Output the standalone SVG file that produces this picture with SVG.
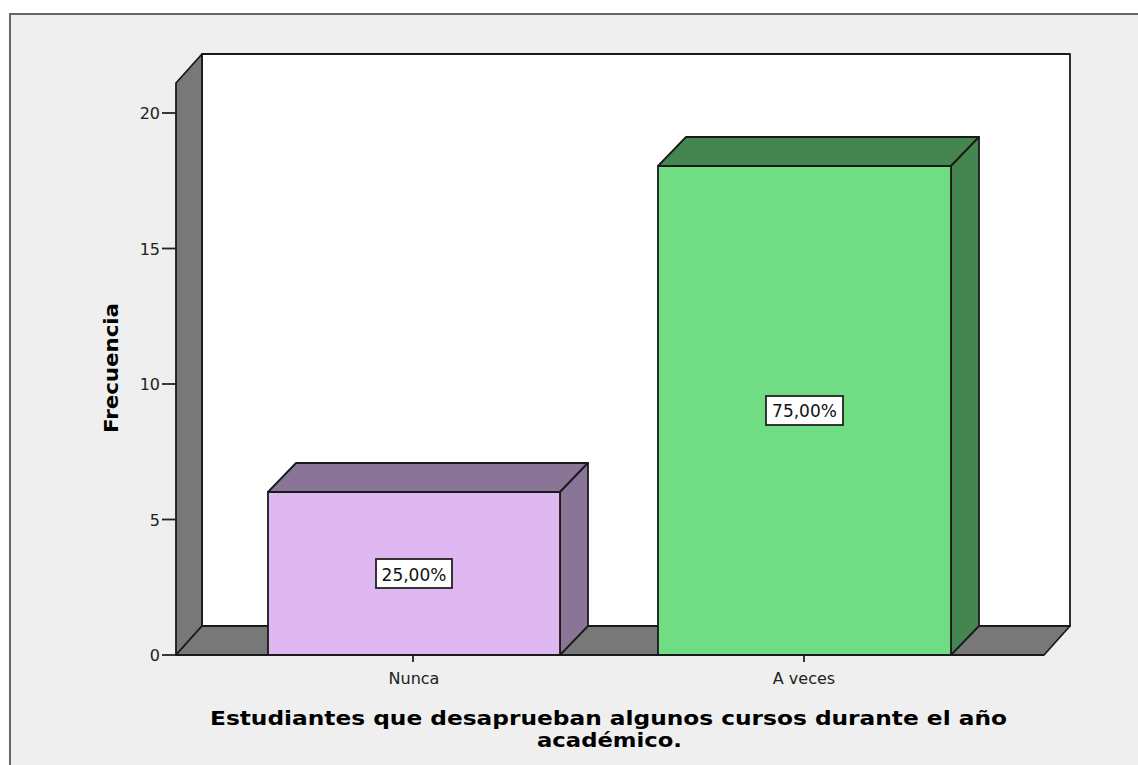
<svg xmlns="http://www.w3.org/2000/svg" width="1138" height="765" viewBox="0 0 1138 765">
<style>
.edge{stroke:#1a1a1a;stroke-width:1.8;stroke-linejoin:round}
.wall{fill:#787878}
.tick{font-family:"DejaVu Sans",sans-serif;font-size:16px;fill:#222;text-anchor:end}
.cat{font-family:"DejaVu Sans",sans-serif;font-size:16px;fill:#222;text-anchor:middle}
.title{font-family:"DejaVu Sans",sans-serif;font-size:20px;font-weight:bold;fill:#000;text-anchor:middle}
.lbl{font-family:"DejaVu Sans",sans-serif;font-size:17px;fill:#111;text-anchor:middle}
.lblbox{fill:#fff;stroke:#222;stroke-width:1.8}
</style>
<rect x="0" y="0" width="1138" height="765" fill="#ffffff"/>
<rect x="10" y="14" width="1140" height="760" fill="#efefef" stroke="#666" stroke-width="2"/>
<g id="chart-frame">
<rect x="202" y="54" width="868" height="572" fill="#ffffff" class="edge"/>
<polygon class="wall edge" points="176,83 202,54 202,626 176,655"/>
<polygon class="wall edge" points="176,655 202,626 1070,626 1044,655"/>
</g>
<g id="axis">
<g stroke="#222" stroke-width="1.8">
<line x1="162" y1="655" x2="176" y2="655"/>
<line x1="162" y1="519.5" x2="176" y2="519.5"/>
<line x1="162" y1="384" x2="176" y2="384"/>
<line x1="162" y1="248.5" x2="176" y2="248.5"/>
<line x1="162" y1="113" x2="176" y2="113"/>
<line x1="413" y1="655" x2="413" y2="662"/>
<line x1="804" y1="655" x2="804" y2="662"/>
</g>
<text class="tick" x="160" y="661">0</text>
<text class="tick" x="160" y="525.5">5</text>
<text class="tick" x="160" y="390">10</text>
<text class="tick" x="160" y="254.5">15</text>
<text class="tick" x="160" y="119">20</text>
<text class="title" transform="translate(118,368) rotate(-90)" textLength="130" lengthAdjust="spacingAndGlyphs">Frecuencia</text>
</g>
<g id="bar-nunca">
<polygon class="edge" fill="#8a7596" points="268,492 296,463 588,463 560,492"/>
<polygon class="edge" fill="#8a7596" points="560,492 588,463 588,626 560,655"/>
<rect class="edge" x="268" y="492" width="292" height="163" fill="#dfb8f2"/>
<rect class="lblbox" x="376" y="559" width="76" height="29"/>
<text class="lbl" x="414" y="581">25,00%</text>
<text class="cat" x="414" y="684">Nunca</text>
</g>
<g id="bar-aveces">
<polygon class="edge" fill="#45854f" points="658,166 686,137 979,137 951,166"/>
<polygon class="edge" fill="#45854f" points="951,166 979,137 979,626 951,655"/>
<rect class="edge" x="658" y="166" width="293" height="489" fill="#70dc84"/>
<rect class="lblbox" x="766" y="396" width="77" height="29"/>
<text class="lbl" x="804.5" y="417">75,00%</text>
<text class="cat" x="804" y="684">A veces</text>
</g>
<g id="title">
<text class="title" x="608.5" y="725" textLength="797" lengthAdjust="spacingAndGlyphs">Estudiantes que desaprueban algunos cursos durante el año</text>
<text class="title" x="609.5" y="747" textLength="145" lengthAdjust="spacingAndGlyphs">académico.</text>
</g>
</svg>
